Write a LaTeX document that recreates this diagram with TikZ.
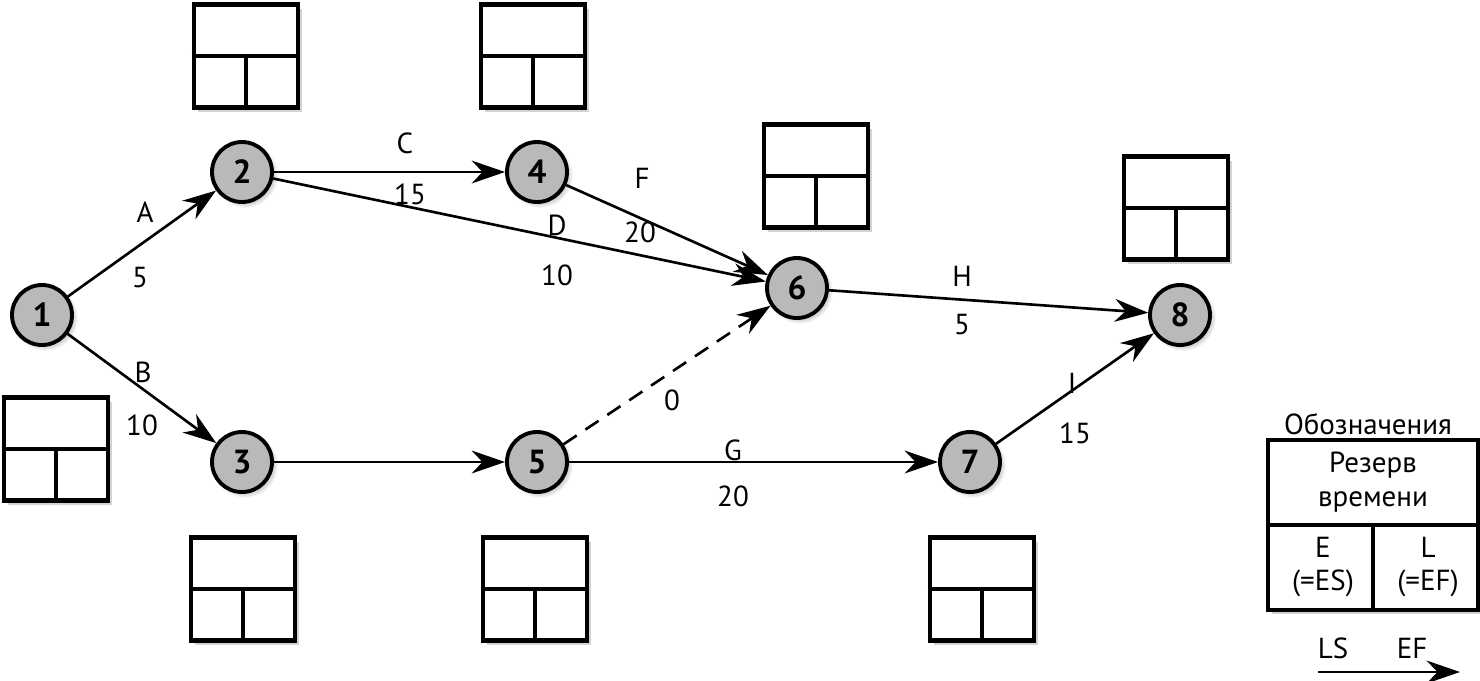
\documentclass[tikz,border=0pt]{standalone}
\usepackage{fontspec}
\setmainfont{PT Sans}
\usepackage{tikz}
\usetikzlibrary{arrows.meta,shadows}

\begin{document}
\begin{tikzpicture}[x=0.02cm,y=-0.02cm]
\tikzset{vertex/.style = {shape=circle,draw,line width=2.2pt,fill=gray!55,minimum size=1.2cm,inner sep=0pt,font=\bfseries\fontsize{19}{21}\selectfont,circular drop shadow={opacity=0.35}}}
\tikzset{edge/.style = {-{Stealth[length=19pt,width=13pt]},line width=1.5pt}}
\tikzset{tbox/.style = {shape=rectangle,draw,line width=2.4pt,fill=white,minimum width=2.08cm,minimum height=2.06cm,drop shadow={opacity=0.35}}}
\tikzset{lbl/.style = {font=\fontsize{16.5}{19}\selectfont}}
\useasboundingbox (0,0) rectangle (1480,680);
%\draw (0,0) rectangle (1480,680);
\node[vertex] (n1) at (42,315) {1};
\node[vertex] (n2) at (242,172) {2};
\node[vertex] (n3) at (242,462) {3};
\node[vertex] (n4) at (537,172) {4};
\node[vertex] (n5) at (537,462) {5};
\node[vertex] (n6) at (797,288) {6};
\node[vertex] (n7) at (970,462) {7};
\node[vertex] (n8) at (1180,315) {8};
\draw[edge] (n1) to (n2);
\draw[edge] (n1) to (n3);
\draw[edge] (n2.east) to (n4);
\draw[edge] (n2) to (n6);
\draw[edge] (n4) to (n6);
\draw[edge] (n3) to (n5);
\draw[edge,dash pattern=on 9pt off 6pt] (n5) to (n6);
\draw[edge] (n5) to (n7);
\draw[edge] (n6) to (n8);
\draw[edge] (n7) to (n8);
\node[lbl] (la) at (145,212) {A};
\node[lbl] (ta) at (140,278) {5};
\node[lbl] (lb) at (143,372) {B};
\node[lbl] (tb) at (142,425) {10};
\node[lbl] (lc) at (405,143) {C};
\node[lbl] (tc) at (410,194) {15};
\node[lbl] (ld) at (557,225) {D};
\node[lbl] (td) at (557,275) {10};
\node[lbl] (lf) at (642,178) {F};
\node[lbl] (tf) at (640,232) {20};
\node[lbl] (lh) at (962,276) {H};
\node[lbl] (th) at (962,325) {5};
\node[lbl] (t0) at (672,400) {0};
\node[lbl] (lg) at (733,450) {G};
\node[lbl] (tg) at (733,496) {20};
\node[lbl] (li) at (1072,383) {I};
\node[lbl] (ti) at (1075,433) {15};
% time boxes
\foreach \n/\x/\y in {1/56/449,2/246/56,3/243/589,4/533/56,5/535/589,6/816/176,7/982/589,8/1176/208}{
  \node[tbox] (b\n) at (\x,\y) {};
  \draw[line width=2.4pt] (b\n.west) -- (b\n.east) (b\n.center) -- (b\n.south);
}
% legend
\node[lbl] (leg) at (1368,424) {Обозначения};
\node[tbox,minimum width=4.2cm,minimum height=3.4cm] (key) at (1373,525) {};
\draw[line width=2.4pt] (key.west) -- (key.east) (key.center) -- (key.south);
\node[lbl,align=center] (res) at (1373,482) {Резерв\\времени};
\node[lbl,align=center] (ke) at (1323,567) {E\\(=ES)};
\node[lbl,align=center] (kl) at (1428,567) {L\\(=EF)};
\node[lbl] (ls) at (1333,648) {LS};
\node[lbl] (ef) at (1412,648) {EF};
\coordinate (a0) at (1318,672);
\coordinate (a1) at (1460,672);
\draw[edge] (a0) to (a1);
\end{tikzpicture}
\end{document}
